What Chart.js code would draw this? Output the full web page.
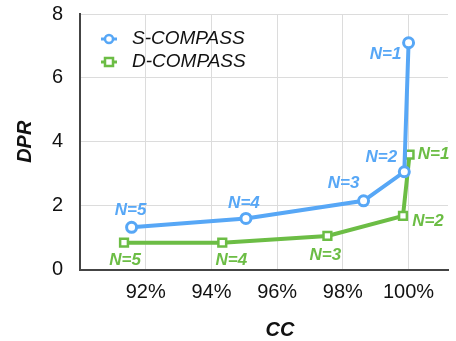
<!DOCTYPE html>
<html>
<head>
<meta charset="utf-8">
<script src="https://cdn.jsdelivr.net/npm/chart.js@4/dist/chart.umd.min.js"></script>
<style>
html,body{margin:0;padding:0;background:#fff;}
#wrap{width:456px;height:341px;position:relative;}
</style>
</head>
<body>
<div id="wrap"><canvas id="c"></canvas></div>
<script>
// ---- data ----
const nLabels = ['N=5', 'N=4', 'N=3', 'N=2', 'N=1'];
const sCompassCC  = [91.57, 95.05, 98.63, 99.87, 100.00];
const sCompassDPR = [1.32, 1.60, 2.15, 3.06, 7.10];
const dCompassCC  = [91.34, 94.33, 97.53, 99.83, 100.03];
const dCompassDPR = [0.84, 0.84, 1.05, 1.68, 3.60];
const xTicks = [92, 94, 96, 98, 100];
const yTicks = [0, 2, 4, 6, 8];
const seriesNames = ['S-COMPASS', 'D-COMPASS'];

const BLUE = '#57a7f6';
const GREEN = '#6cbd45';
const FONT = "'Liberation Sans', Arial, Helvetica, sans-serif";

// label offsets (text centre relative to point), per dataset
const labelOffsets = [
  [[-1,-17],[-2,-15],[-20,-18],[-23,-14],[-23,12]],
  [[1,18],[9,18],[-2,19],[25,5],[24,0]]
];

const pointLabels = {
  id: 'pointLabels',
  afterDatasetsDraw(chart) {
    const ctx = chart.ctx;
    ctx.save();
    ctx.font = "italic bold 17px " + FONT;
    ctx.textAlign = 'center';
    ctx.textBaseline = 'middle';
    chart.data.datasets.forEach((ds, i) => {
      const meta = chart.getDatasetMeta(i);
      ctx.fillStyle = ds.borderColor;
      meta.data.forEach((el, j) => {
        const o = labelOffsets[i][j];
        ctx.fillText(nLabels[j], el.x + o[0], el.y + o[1]);
      });
    });
    ctx.restore();
  }
};

const customLegend = {
  id: 'customLegend',
  afterDraw(chart) {
    const ctx = chart.ctx;
    ctx.save();
    chart.data.datasets.forEach((ds, i) => {
      const cx = 109, cy = 39 + i * 23;
      ctx.strokeStyle = ds.borderColor;
      ctx.lineWidth = 3;
      ctx.beginPath();
      ctx.moveTo(cx - 8, cy); ctx.lineTo(cx + 8, cy); ctx.stroke();
      ctx.fillStyle = '#fff';
      ctx.lineWidth = 2.5;
      ctx.beginPath();
      if (ds.pointStyle === 'rect') {
        ctx.rect(cx - 4, cy - 4, 8, 8);
      } else {
        ctx.arc(cx, cy, 4, 0, Math.PI * 2);
      }
      ctx.fill(); ctx.stroke();
      ctx.fillStyle = '#111';
      ctx.font = "italic 19px " + FONT;
      ctx.textAlign = 'left';
      ctx.textBaseline = 'middle';
      ctx.fillText(ds.label, 132, cy);
    });
    // x axis title
    ctx.fillStyle = '#111';
    ctx.font = "italic bold 20px " + FONT;
    ctx.textAlign = 'center';
    ctx.textBaseline = 'middle';
    ctx.fillText('CC', 280, 330);
    ctx.restore();
  }
};

new Chart(document.getElementById('c'), {
  type: 'line',
  data: {
    datasets: [
      {
        label: seriesNames[0],
        data: sCompassCC.map((x, i) => ({x: x, y: sCompassDPR[i]})),
        borderColor: BLUE,
        backgroundColor: '#fff',
        borderWidth: 4,
        pointStyle: 'circle',
        pointRadius: 5,
        pointBorderWidth: 3,
        pointBackgroundColor: '#fff',
        pointBorderColor: BLUE,
        tension: 0
      },
      {
        label: seriesNames[1],
        data: dCompassCC.map((x, i) => ({x: x, y: dCompassDPR[i]})),
        borderColor: GREEN,
        backgroundColor: '#fff',
        borderWidth: 4,
        pointStyle: 'rect',
        pointRadius: 5.5,
        pointBorderWidth: 2.5,
        pointBackgroundColor: '#fff',
        pointBorderColor: GREEN,
        tension: 0
      }
    ]
  },
  options: {
    responsive: true,
    maintainAspectRatio: false,
    animation: false,
    devicePixelRatio: 1,
    layout: { padding: { top: 0, right: 0, left: 0, bottom: 0 } },
    plugins: {
      legend: { display: false },
      tooltip: { enabled: false }
    },
    scales: {
      x: {
        type: 'linear',
        min: 90,
        max: 101.2,
        afterBuildTicks(scale) { scale.ticks = xTicks.map(v => ({value: v})); },
        afterFit(scale) {
          scale.height = 71.5;
          scale.paddingLeft = 0; scale.paddingRight = 5;
        },
        ticks: {
          callback: v => v + '%',
          font: { size: 20, family: FONT },
          color: '#111',
          padding: 11,
          maxRotation: 0,
          autoSkip: false
        },
        grid: { color: '#dcdcdc', lineWidth: 1, drawTicks: false },
        border: { color: '#444', width: 2 }
      },
      y: {
        min: 0,
        max: 8,
        afterBuildTicks(scale) { scale.ticks = yTicks.map(v => ({value: v})); },
        afterFit(scale) {
          scale.width = 80;
          scale.paddingTop = 14; scale.paddingBottom = 0;
        },
        ticks: {
          font: { size: 20, family: FONT },
          color: '#111',
          padding: 17
        },
        grid: { color: '#dcdcdc', lineWidth: 1, drawTicks: false },
        border: { color: '#444', width: 2 },
        title: {
          display: true,
          text: 'DPR',
          font: { size: 20, family: FONT, style: 'italic', weight: 'bold' },
          color: '#111',
          padding: { top: 13, bottom: 0 }
        }
      }
    }
  },
  plugins: [pointLabels, customLegend]
});
</script>
</body>
</html>
